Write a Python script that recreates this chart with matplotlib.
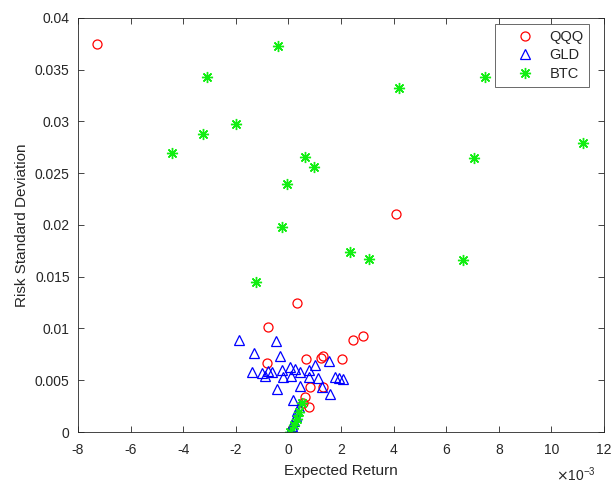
import numpy as np
import matplotlib
matplotlib.use("Agg")
import matplotlib.pyplot as plt
from matplotlib.ticker import FixedLocator, FixedFormatter, FuncFormatter

plt.rcParams['font.family'] = ['Liberation Sans', 'DejaVu Sans']
plt.rcParams['axes.unicode_minus'] = False

# expected return (x, in 1e-3 units) and risk std (y) for each asset
qqq_ret = [-7.29, 4.09, 0.34, -0.76, 2.47, 2.83, -0.83, 0.67, 1.23, 1.33,
           2.03, 0.82, 1.30, 0.63, 0.79, 0.56]
qqq_std = [0.03746, 0.02109, 0.01243, 0.01017, 0.00889, 0.00930, 0.00670,
           0.00705, 0.00718, 0.00737, 0.00705, 0.00432, 0.00438, 0.00335,
           0.00244, 0.00280]

gld_ret = [-1.87, -0.47, -1.30, -0.32, -1.40, -1.00, -0.78, -0.89, -0.25,
           0.06, -0.19, 0.10, 0.44, 0.79, 1.01, 1.56, 1.14, 1.77, 2.06, 1.92,
           0.44, 0.79, -0.42, 1.58, 1.27, 0.19, 0.41, 0.33, 0.29, 0.21, 0.14,
           0.06, -0.62, 0.25]
gld_std = [0.00889, 0.00882, 0.00760, 0.00734, 0.00583, 0.00570, 0.00589,
           0.00541, 0.00599, 0.00631, 0.00528, 0.00541, 0.00583, 0.00599,
           0.00647, 0.00689, 0.00519, 0.00528, 0.00509, 0.00522, 0.00444,
           0.00534, 0.00415, 0.00367, 0.00438, 0.00309, 0.00244, 0.00203,
           0.00155, 0.00106, 0.00058, 0.00003, 0.00580, 0.00610]

btc_ret = [-0.38, -3.09, -1.98, -3.26, -4.41, 0.64, 0.99, -0.04, -0.23, -1.24,
           4.22, 7.46, 11.20, 7.06, 2.34, 3.08, 6.65, 0.51, 0.40, 0.34, 0.21,
           0.06]
btc_std = [0.03732, 0.03427, 0.02976, 0.02882, 0.02696, 0.02660, 0.02557,
           0.02396, 0.01984, 0.01446, 0.03324, 0.03430, 0.02790, 0.02650,
           0.01740, 0.01669, 0.01662, 0.00283, 0.00193, 0.00123, 0.00068,
           0.00003]

yticks = [0, 0.005, 0.01, 0.015, 0.02, 0.025, 0.03, 0.035, 0.04]
ytick_labels = ['0', '0.005', '0.01', '0.015', '0.02', '0.025', '0.03', '0.035', '0.04']

fig = plt.figure(figsize=(6.12, 4.84), dpi=100)
ax = fig.add_axes([0.1275, 0.1074, 0.8595, 0.8556])

k = 1e-3
ax.plot(np.array(qqq_ret) * k, qqq_std, 'o', mfc='none', mec='red', ms=6.5, mew=0.9, label='QQQ')
ax.plot(np.array(gld_ret) * k, gld_std, '^', mfc='none', mec='blue', ms=7, mew=0.9, label='GLD')
ax.plot(np.array(btc_ret) * k, btc_std, marker=(8, 2, 0), ls='none', color='#11ee11', ms=8, mew=1.0, label='BTC')

ax.set_xlim(-8e-3, 12e-3)
ax.set_ylim(0, 0.04)
ax.set_xticks(np.arange(-8, 13, 2) * k)
ax.xaxis.set_major_formatter(FuncFormatter(lambda v, p: '%g' % round(v / k, 6)))
ax.yaxis.set_major_locator(FixedLocator(yticks))
ax.yaxis.set_major_formatter(FixedFormatter(ytick_labels))

gray = '#262626'
for s in ax.spines.values():
    s.set_color(gray)
    s.set_linewidth(0.6)
ax.tick_params(direction='in', top=True, right=True, length=4, width=0.6,
               colors=gray, labelcolor=gray, labelsize=10)
ax.tick_params(axis='x', pad=8)
ax.tick_params(axis='y', pad=6)

ax.set_xlabel('Expected Return', fontsize=11, color=gray, labelpad=5)
ax.set_ylabel('Risk Standard Deviation', fontsize=11, color=gray, labelpad=4)
fig.text(596 / 612, 0 / 484, r'$\times\mathregular{10^{-3}}$', ha='right', va='bottom',
         fontsize=10, color=gray)

leg = ax.legend(loc='upper right', bbox_to_anchor=(0.972, 0.985), fancybox=False,
                edgecolor=gray, fontsize=10.5, handletextpad=0.1, borderpad=0.4,
                labelspacing=0.3, handlelength=3.2, borderaxespad=0)
leg.get_frame().set_linewidth(0.6)
for t in leg.get_texts():
    t.set_color(gray)

fig.savefig('out.png', dpi=100)
